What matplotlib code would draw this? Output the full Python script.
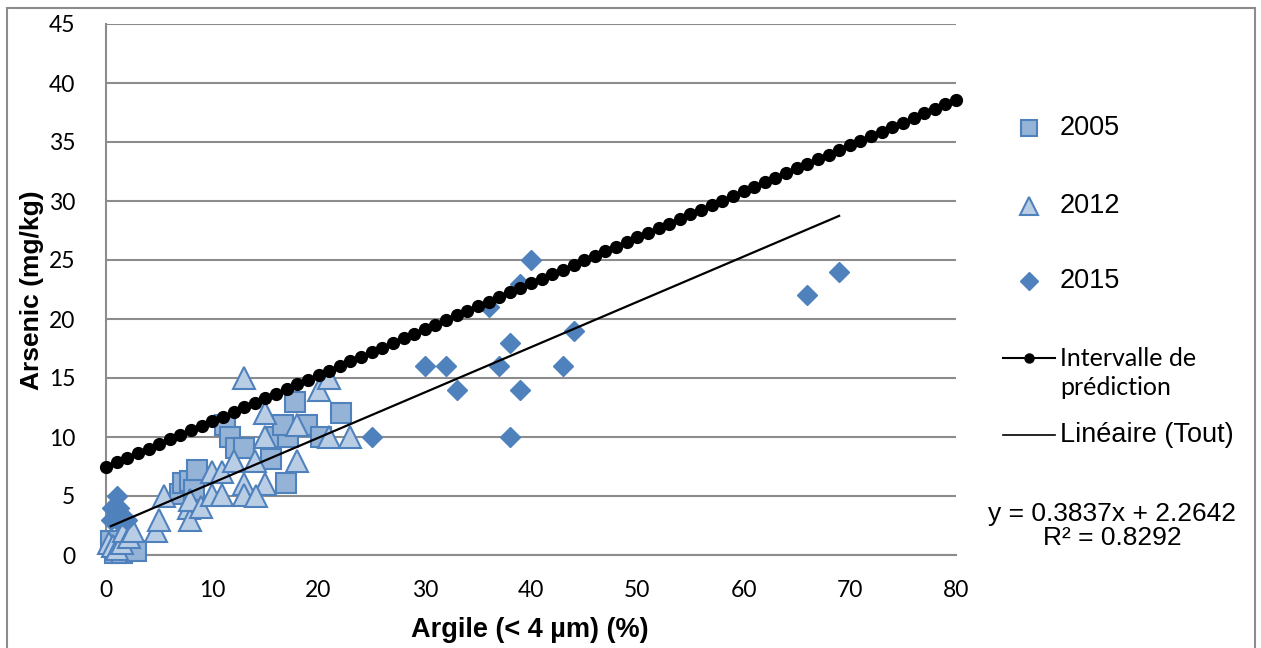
import numpy as np
import matplotlib.pyplot as plt
import matplotlib as mpl
from matplotlib.lines import Line2D
from matplotlib.patches import Rectangle

# data
x2005 = [0.8, 1.5, 2.8, 0.5, 7.0, 7.2, 7.9, 8.3, 8.6, 11.2, 11.7, 12.2, 13.0,
         15.5, 16.9, 16.1, 17.1, 16.7, 18.9, 17.8, 20.2, 22.1]
y2005 = [0.2, 0.2, 0.3, 1.2, 5.2, 6.1, 6.3, 5.5, 7.2, 11.0, 10.0, 9.1, 9.1,
         8.1, 6.1, 10.0, 10.0, 11.0, 11.0, 13.0, 10.0, 12.0]

x2012 = [0.3, 0.7, 1.0, 1.5, 1.7, 2.2, 2.5, 4.7, 5.0, 5.5, 7.8, 7.9, 7.9, 8.9,
         10.0, 10.9, 10.0, 10.9, 13.0, 15.0, 13.0, 14.1, 12.0, 14.0, 18.0,
         15.0, 21.0, 23.0, 15.0, 18.0, 20.0, 13.0, 21.0]
y2012 = [1.0, 0.8, 0.5, 1.0, 2.0, 1.5, 2.0, 2.0, 3.0, 5.0, 4.0, 3.0, 4.7, 4.1,
         7.0, 7.0, 5.1, 5.1, 6.0, 6.0, 5.1, 5.0, 8.0, 8.0, 8.0,
         10.0, 10.0, 10.0, 12.0, 11.0, 14.0, 15.0, 15.0]

x2015 = [1.0, 0.6, 1.2, 0.5, 1.3, 1.0, 2.0, 25, 30, 32, 33, 36, 37, 38, 38,
         39, 39, 40, 43, 44, 66, 69]
y2015 = [5.0, 4.0, 4.0, 3.0, 3.5, 3.0, 3.0, 10, 16, 16, 14, 21, 16, 18, 10,
         14, 23, 25, 16, 19, 22, 24]

# prediction interval, one point per unit of clay
x_pred = list(range(81))
y_pred = [7.45, 7.84, 8.23, 8.62, 9.01, 9.40, 9.79, 10.18, 10.57, 10.95,
          11.34, 11.73, 12.12, 12.51, 12.90, 13.29, 13.68, 14.07, 14.46, 14.85,
          15.24, 15.63, 16.02, 16.41, 16.80, 17.18, 17.57, 17.96, 18.35, 18.74,
          19.13, 19.52, 19.91, 20.30, 20.69, 21.08, 21.47, 21.86, 22.25, 22.64,
          23.03, 23.41, 23.80, 24.19, 24.58, 24.97, 25.36, 25.75, 26.14, 26.53,
          26.92, 27.31, 27.70, 28.09, 28.48, 28.87, 29.26, 29.64, 30.03, 30.42,
          30.81, 31.20, 31.59, 31.98, 32.37, 32.76, 33.15, 33.54, 33.93, 34.32,
          34.71, 35.09, 35.48, 35.87, 36.26, 36.65, 37.04, 37.43, 37.82, 38.21,
          38.60]

# linear trend (all years)
x_fit = [0.45, 69]
y_fit = [2.44, 28.74]

xticks = [0, 10, 20, 30, 40, 50, 60, 70, 80]
yticks = [0, 5, 10, 15, 20, 25, 30, 35, 40, 45]

W, H = 1261, 648
dark = '#4F81BD'
grid_c = '#8C8C8C'

fig = plt.figure(figsize=(W / 100, H / 100), dpi=100)
ax = fig.add_axes([106 / W, 1 - 555 / H, (956 - 106) / W, (555 - 24) / H])

ax.plot(x2005, y2005, 's', ms=14, mfc='#95B3D7', mec=dark, mew=1.5, zorder=3,
        clip_on=False)
ax.plot(x2012, y2012, '^', ms=15.5, mfc='#B9CDE5', mec=dark, mew=1.5, zorder=4,
        clip_on=False)
ax.plot(x2015, y2015, 'D', ms=10.5, mfc=dark, mec=dark, mew=1, zorder=5,
        clip_on=False)
ax.plot(x_pred, y_pred, '-o', color='black', lw=1.5, ms=8.5, zorder=6,
        clip_on=False)
ax.plot(x_fit, y_fit, '-', color='black', lw=1.6, zorder=7)

ax.set_xlim(0, 80)
ax.set_ylim(0, 45)
ax.set_xticks(xticks)
ax.set_yticks(yticks)
ax.tick_params(length=0, labelsize=16.5)
for lab in ax.get_xticklabels() + ax.get_yticklabels():
    lab.set_family('Lato')
ax.tick_params(axis='x', pad=18)
ax.tick_params(axis='y', pad=22)
ax.grid(True, axis='y', color=grid_c, lw=1.5, zorder=0)
for s in ['top', 'right']:
    ax.spines[s].set_visible(False)
for s in ['left', 'bottom']:
    ax.spines[s].set_color(grid_c)
    ax.spines[s].set_linewidth(1.5)

ax.set_xlabel('Argile (< 4 µm) (%)', fontsize=19.5, fontweight='bold',
              family='Liberation Sans')
ax.set_ylabel('Arsenic (mg/kg)', fontsize=19, fontweight='bold',
              family='Liberation Sans')
ax.xaxis.set_label_coords((530 - 106) / 850, (555 - 630) / 531)
ax.yaxis.set_label_coords((32 - 106) / 850, (555 - 290) / 531)
ax.xaxis.label.set_va('center')
ax.yaxis.label.set_va('center')

# legend drawn by hand, Excel style
def fx(px):
    return px / W

def fy(py):
    return 1 - py / H

mx = 1029
fig.add_artist(Line2D([fx(mx)], [fy(128)], marker='s', ms=12, mfc='#95B3D7',
                      mec=dark, mew=1.5, transform=fig.transFigure))
fig.add_artist(Line2D([fx(mx)], [fy(206)], marker='^', ms=13, mfc='#B9CDE5',
                      mec=dark, mew=1.5, transform=fig.transFigure))
fig.add_artist(Line2D([fx(mx)], [fy(281)], marker='D', ms=9, mfc=dark,
                      mec=dark, transform=fig.transFigure))
fig.add_artist(Line2D([fx(1003), fx(mx), fx(1055)], [fy(358)] * 3, color='black',
                      lw=1.5, marker='o', ms=6.5, markevery=[1],
                      transform=fig.transFigure))
fig.add_artist(Line2D([fx(1003), fx(1055)], [fy(435)] * 2, color='black',
                      lw=1.2, transform=fig.transFigure))

tx = fx(1060)
for label, py in [('2005', 128), ('2012', 206), ('2015', 281)]:
    fig.text(tx, fy(py), label, fontsize=19.5, family='Liberation Sans',
             va='center', ha='left')
fig.text(tx, fy(373), 'Intervalle de\nprédiction', fontsize=18, family='Lato',
         va='center', ha='left', linespacing=1.3)
fig.text(tx, fy(435), 'Linéaire (Tout)', fontsize=19.5, family='Liberation Sans',
         va='center', ha='left')
fig.text(fx(1112), fy(526), 'y = 0.3837x + 2.2642\nR² = 0.8292', fontsize=19,
         family='Liberation Sans', va='center', ha='center', linespacing=1.0)

# outer chart border
fig.add_artist(Rectangle((fx(7), fy(652)), fx(1255) - fx(7), fy(8) - fy(652),
                         transform=fig.transFigure, fill=False,
                         ec=grid_c, lw=1.5))

fig.savefig('out.png', dpi=100)
